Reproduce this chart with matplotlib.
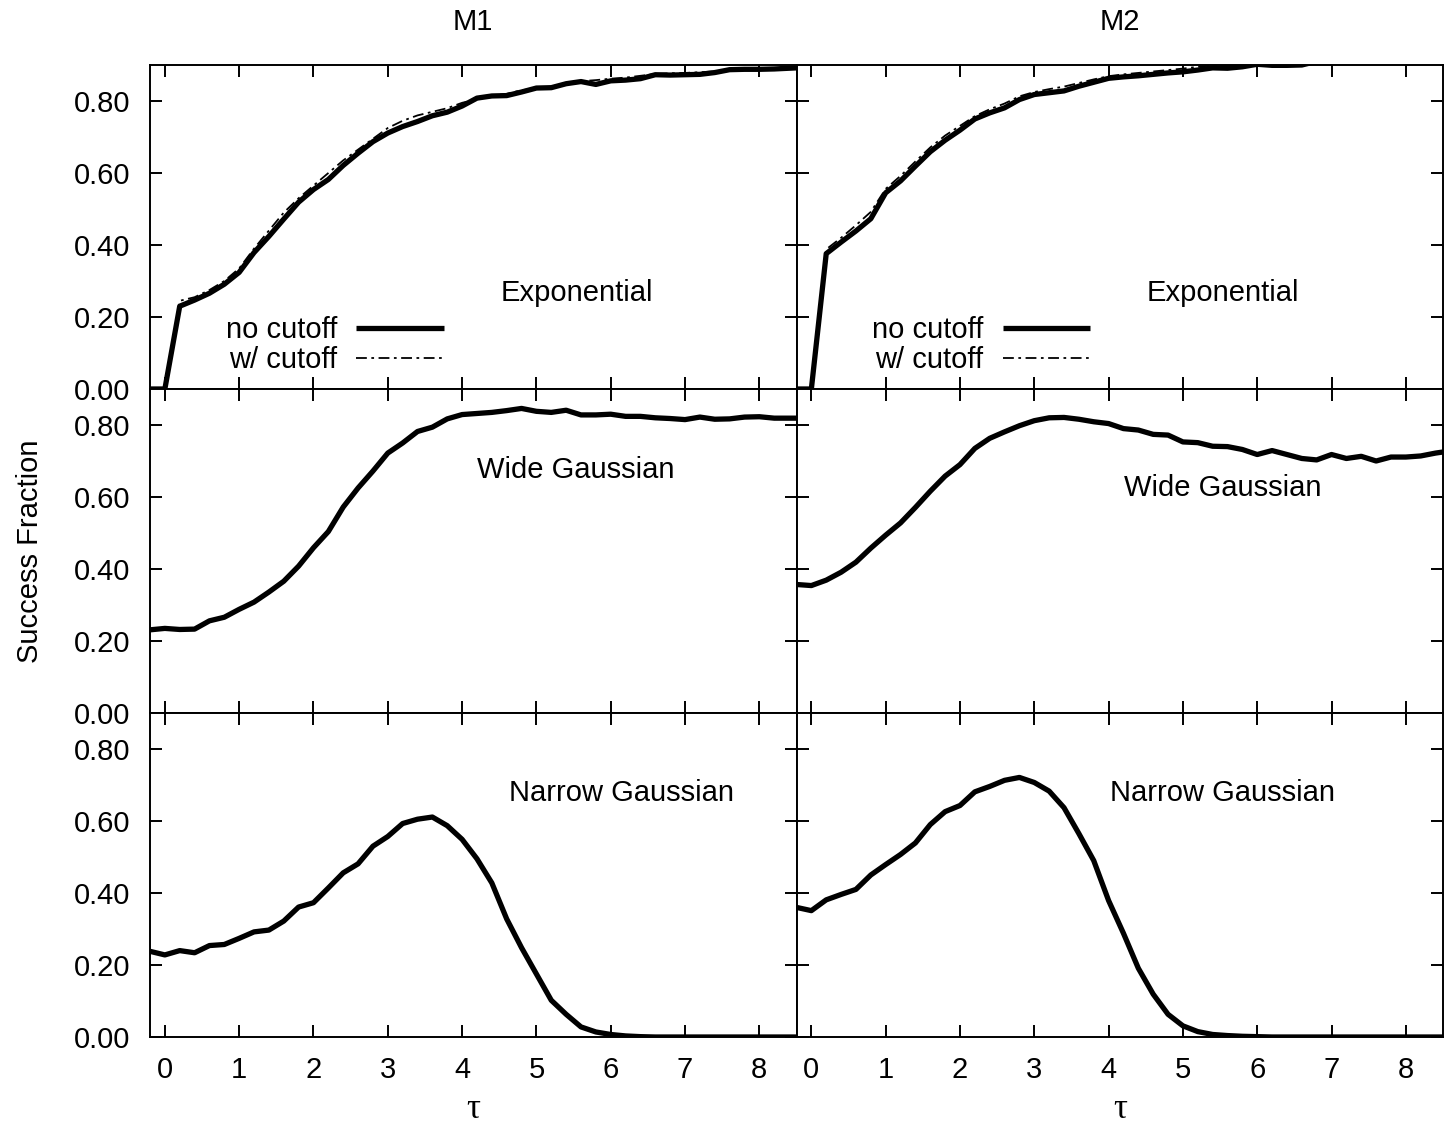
import numpy as np
import matplotlib
matplotlib.use("Agg")
import matplotlib.pyplot as plt

plt.rcParams['font.family'] = ['Liberation Sans', 'DejaVu Sans']

# ---------------- data ----------------
tau = np.round(np.arange(-0.2, 8.61, 0.2), 1)   # sampling grid (45 points)

col_titles = ["M1", "M2"]
row_labels = ["Exponential", "Wide Gaussian", "Narrow Gaussian"]
legend_labels = ["no cutoff", "w/ cutoff"]
ytick_vals = [0.0, 0.2, 0.4, 0.6, 0.8]
xtick_vals = [0, 1, 2, 3, 4, 5, 6, 7, 8]

m1_exp_nocut = [0.0, 0.0, 0.230, 0.247, 0.266, 0.291, 0.324, 0.379, 0.424, 0.472,
                0.519, 0.554, 0.582, 0.621, 0.655, 0.687, 0.711, 0.729, 0.743, 0.759,
                0.769, 0.786, 0.808, 0.814, 0.815, 0.825, 0.836, 0.837, 0.848, 0.854,
                0.846, 0.856, 0.858, 0.862, 0.873, 0.872, 0.873, 0.874, 0.879, 0.887,
                0.888, 0.888, 0.889, 0.891, 0.893]
m1_exp_cut = [0.0, 0.0, 0.245, 0.255, 0.275, 0.300, 0.335, 0.390, 0.440, 0.490,
              0.530, 0.565, 0.600, 0.635, 0.665, 0.695, 0.725, 0.745, 0.760, 0.770,
              0.780, 0.795, 0.805, 0.815, 0.820, 0.830, 0.835, 0.840, 0.850, 0.855,
              0.858, 0.862, 0.865, 0.870, 0.875, 0.877, 0.878, 0.880, 0.882, 0.886,
              0.888, 0.889, 0.890, 0.891, 0.893]
m2_exp_nocut = [0.0, 0.0, 0.376, 0.408, 0.439, 0.473, 0.545, 0.578, 0.619, 0.659,
                0.691, 0.719, 0.750, 0.767, 0.781, 0.804, 0.818, 0.823, 0.828, 0.841,
                0.852, 0.863, 0.867, 0.870, 0.874, 0.878, 0.881, 0.886, 0.892, 0.891,
                0.895, 0.902, 0.899, 0.899, 0.900, 0.910, 0.912, 0.913, 0.914, 0.915,
                0.916, 0.917, 0.918, 0.919, 0.920]
m2_exp_cut = [0.0, 0.0, 0.388, 0.420, 0.455, 0.492, 0.556, 0.592, 0.632, 0.671,
              0.704, 0.731, 0.758, 0.777, 0.793, 0.813, 0.825, 0.833, 0.840, 0.850,
              0.860, 0.869, 0.874, 0.878, 0.882, 0.886, 0.890, 0.895, 0.899, 0.900,
              0.903, 0.906, 0.910, 0.912, 0.913, 0.914, 0.915, 0.916, 0.917, 0.918,
              0.919, 0.920, 0.921, 0.922, 0.923]
m1_wide = [0.231, 0.235, 0.232, 0.233, 0.256, 0.266, 0.288, 0.308, 0.336, 0.366,
           0.408, 0.459, 0.504, 0.572, 0.625, 0.672, 0.722, 0.750, 0.782, 0.794,
           0.817, 0.829, 0.832, 0.835, 0.840, 0.846, 0.838, 0.835, 0.841, 0.828,
           0.828, 0.830, 0.824, 0.824, 0.820, 0.818, 0.815, 0.822, 0.816, 0.817,
           0.822, 0.823, 0.819, 0.819, 0.819]
m2_wide = [0.357, 0.354, 0.369, 0.391, 0.419, 0.458, 0.494, 0.528, 0.571, 0.616,
           0.658, 0.690, 0.735, 0.763, 0.781, 0.798, 0.812, 0.820, 0.821, 0.816,
           0.809, 0.804, 0.790, 0.786, 0.774, 0.772, 0.753, 0.751, 0.741, 0.740,
           0.732, 0.718, 0.729, 0.718, 0.707, 0.703, 0.718, 0.707, 0.713, 0.700,
           0.711, 0.711, 0.714, 0.722, 0.728]
m1_narrow = [0.238, 0.228, 0.240, 0.234, 0.254, 0.257, 0.274, 0.292, 0.297, 0.322,
             0.361, 0.373, 0.414, 0.456, 0.481, 0.530, 0.557, 0.593, 0.605, 0.611,
             0.587, 0.549, 0.495, 0.428, 0.328, 0.248, 0.175, 0.102, 0.063, 0.028,
             0.014, 0.007, 0.003, 0.001, 0.0, 0.0, 0.0, 0.0, 0.0, 0.0,
             0.0, 0.0, 0.0, 0.0, 0.0]
m2_narrow = [0.360, 0.351, 0.381, 0.396, 0.410, 0.450, 0.479, 0.507, 0.539, 0.590,
             0.626, 0.643, 0.681, 0.696, 0.713, 0.721, 0.707, 0.683, 0.637, 0.565,
             0.490, 0.379, 0.288, 0.191, 0.119, 0.063, 0.031, 0.015, 0.007, 0.004,
             0.002, 0.001, 0.0, 0.0, 0.0, 0.0, 0.0, 0.0, 0.0, 0.0,
             0.0, 0.0, 0.0, 0.0, 0.0]

# ---------------- figure ----------------
W, H = 1454, 1130
fig = plt.figure(figsize=(W / 100, H / 100), dpi=100)
L, R, T, B = 150 / W, 1443 / W, 1 - 65 / H, 1 - 1037 / H
axes = fig.subplots(3, 2, sharex=True, sharey=True,
                    gridspec_kw=dict(left=L, right=R, top=T, bottom=B, wspace=0, hspace=0))

FS = 21
solid_kw = dict(color='black', lw=3.8, solid_joinstyle='round', solid_capstyle='butt')
dash_kw = dict(color='black', lw=1.3, linestyle=(0, (6, 2.5, 1.5, 2.5)))

series = [
    [(m1_exp_nocut, m1_exp_cut), (m2_exp_nocut, m2_exp_cut)],
    [(m1_wide, None), (m2_wide, None)],
    [(m1_narrow, None), (m2_narrow, None)],
]
label_pos = [
    [(0.660, 0.297), (0.659, 0.297)],
    [(0.659, 0.751), (0.659, 0.695)],
    [(0.729, 0.753), (0.659, 0.753)],
]

for r in range(3):
    for c in range(2):
        ax = axes[r][c]
        main, cut = series[r][c]
        if cut is not None:
            ax.plot(tau, cut, label=legend_labels[1], zorder=4, **dash_kw)
        ax.plot(tau, main, label=legend_labels[0], zorder=3, **solid_kw)
        ax.set_xlim(-0.2, 8.5)
        ax.set_ylim(0.0, 0.9)
        ax.set_xticks(xtick_vals)
        ax.set_yticks(ytick_vals)
        ax.set_yticklabels([f"{v:.2f}" for v in ytick_vals])
        ax.tick_params(direction='in', top=True, right=True, length=8.5, width=1.4,
                       labelsize=FS, pad=14)
        for s in ax.spines.values():
            s.set_linewidth(1.4)
        lx, ly = label_pos[r][c]
        ax.text(lx, ly, row_labels[r], transform=ax.transAxes, ha='center',
                va='center', fontsize=FS)
        if r == 0:
            h, l = ax.get_legend_handles_labels()
            order = [1, 0]
            ax.legend([h[i] for i in order], [l[i] for i in order],
                      loc='center right', bbox_to_anchor=(0.454, 0.136),
                      markerfirst=False, frameon=False, fontsize=FS,
                      handlelength=3.0, handletextpad=0.65, labelspacing=0.08,
                      borderpad=0, borderaxespad=0)
        if c == 1:
            ax.tick_params(labelleft=False)

for c in range(2):
    pos = axes[0][c].get_position()
    xc = (pos.x0 + pos.x1) / 2
    fig.text(xc, 1 - 22 / H, col_titles[c], ha='center', va='center', fontsize=FS)
    fig.text(xc, 1 - 1110 / H, "τ", ha='center', va='center', fontsize=25,
             family=['Liberation Serif', 'DejaVu Serif'])

fig.text(30 / W, 1 - 551 / H, "Success Fraction", rotation=90, ha='center',
         va='center', fontsize=FS)

fig.savefig("out.png", dpi=100)
